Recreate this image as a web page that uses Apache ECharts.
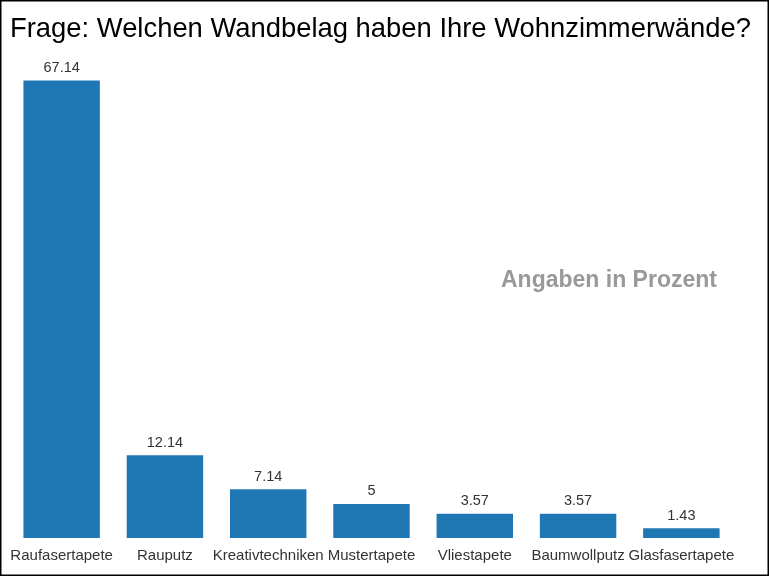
<!DOCTYPE html>
<html><head><meta charset="utf-8">
<script src="https://cdn.jsdelivr.net/npm/echarts@6/dist/echarts.min.js"></script>
<style>html,body{margin:0;padding:0;background:#fff}#c{width:769px;height:576px}</style>
</head><body><div id="c"></div>
<script>
const categories = ['Raufasertapete','Rauputz','Kreativtechniken','Mustertapete','Vliestapete','Baumwollputz','Glasfasertapete'];
const values = [67.14, 12.14, 7.14, 5, 3.57, 3.57, 1.43];
const titleText = 'Frage: Welchen Wandbelag haben Ihre Wohnzimmerwände?';
const noteText = 'Angaben in Prozent';

const chart = echarts.init(document.getElementById('c'), null, {renderer:'canvas'});
chart.setOption({
  animation:false,
  backgroundColor:'#fff',
  title:{text:titleText,left:5,top:11,textStyle:{fontFamily:'Liberation Sans',fontSize:27.4,fontWeight:'normal',color:'#000'}},
  grid:{left:10,right:36,top:61,bottom:38,containLabel:false},
  xAxis:{type:'category',data:categories,axisLine:{show:false},axisTick:{show:false},
    axisLabel:{interval:0,color:'#333',fontFamily:'Liberation Sans',fontSize:15,margin:10}},
  yAxis:{type:'value',min:0,max:70,show:false,splitLine:{show:false}},
  series:[{type:'bar',data:values,barWidth:'74%',itemStyle:{color:'#1f77b4'},
    label:{show:true,position:'top',distance:5,color:'#333',fontFamily:'Liberation Sans',fontSize:14.5}}],
  graphic:[
    {type:'text',left:501,top:269,style:{text:noteText,fill:'#999',font:'bold 23px "Liberation Sans"'}},
    {type:'rect',shape:{x:0.75,y:0.75,width:767.5,height:574.5},style:{fill:'none',stroke:'#000',lineWidth:1.5},silent:true}
  ]
});
</script></body></html>
